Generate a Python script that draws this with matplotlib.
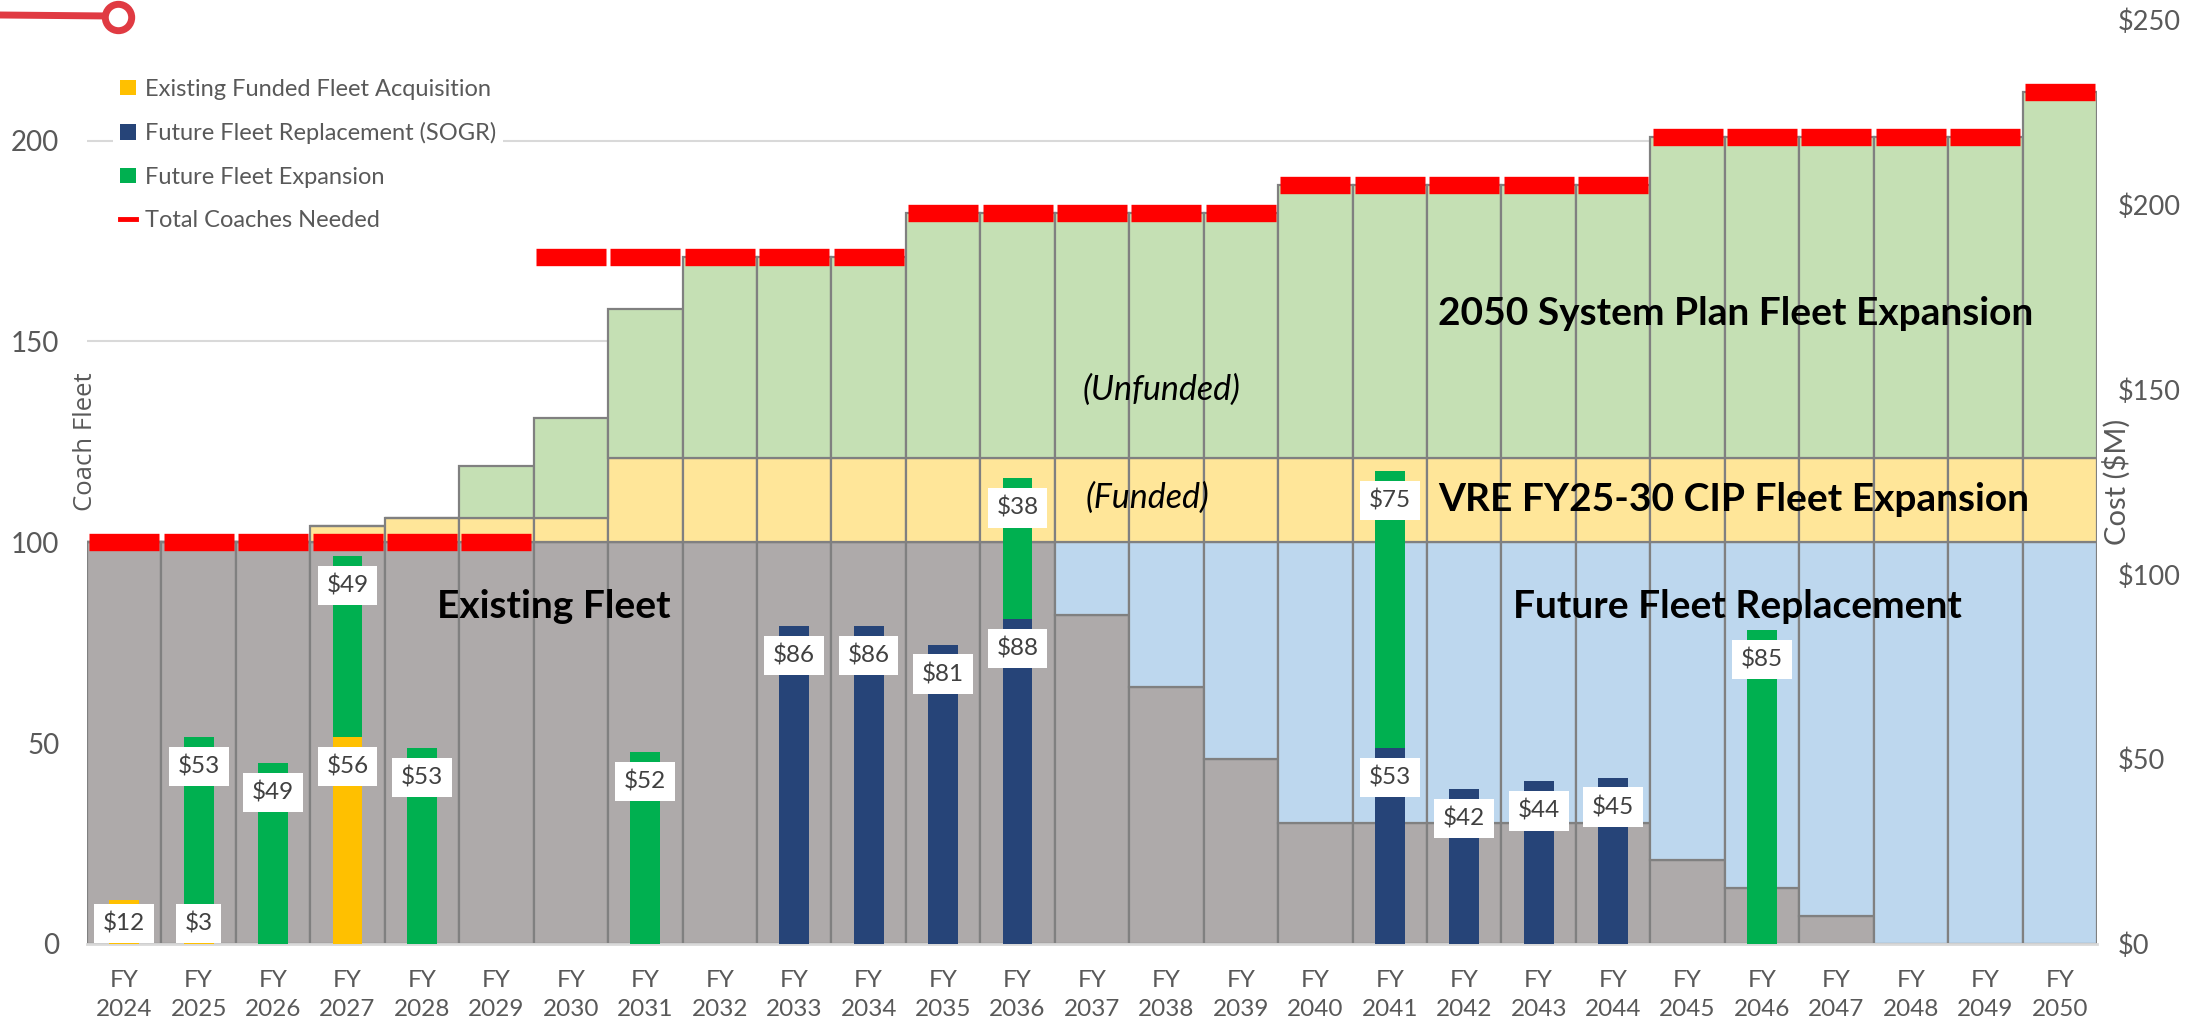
import numpy as np
import matplotlib
matplotlib.use('Agg')
import matplotlib.pyplot as plt
from matplotlib.patches import Patch
from matplotlib.lines import Line2D

plt.rcParams['font.family'] = ['Lato', 'DejaVu Sans']

####################
# DATA
####################
years = list(range(2024, 2051))
tick_labels = ['FY\n' + str(y) for y in years]

# Coach fleet (left axis)
existing_fleet = [100, 100, 100, 100, 100, 100, 100, 100, 100, 100, 100, 100, 100,
                  82, 64, 46, 30, 30, 30, 30, 30, 21, 14, 7, 0, 0, 0]
future_replacement = [0, 0, 0, 0, 0, 0, 0, 0, 0, 0, 0, 0, 0,
                      18, 36, 54, 70, 70, 70, 70, 70, 79, 86, 93, 100, 100, 100]
funded_expansion = [0, 0, 0, 4, 6, 6, 6, 21, 21, 21, 21, 21, 21, 21,
                    21, 21, 21, 21, 21, 21, 21, 21, 21, 21, 21, 21, 21]
unfunded_expansion = [0, 0, 0, 0, 0, 13, 25, 37, 50, 50, 50, 61, 61, 61,
                      61, 61, 68, 68, 68, 68, 68, 80, 80, 80, 80, 80, 91]
total_needed = [100, 100, 100, 100, 100, 100, 171, 171, 171, 171, 171, 182, 182, 182,
                182, 182, 189, 189, 189, 189, 189, 201, 201, 201, 201, 201, 212]

# Cost in $M (right axis)
cost_existing_acq = [12, 3, 0, 56, 0, 0, 0, 0, 0, 0, 0, 0, 0, 0,
                     0, 0, 0, 0, 0, 0, 0, 0, 0, 0, 0, 0, 0]
cost_sogr = [0, 0, 0, 0, 0, 0, 0, 0, 0, 86, 86, 81, 88, 0,
             0, 0, 0, 53, 42, 44, 45, 0, 0, 0, 0, 0, 0]
cost_expansion = [0, 53, 49, 49, 53, 0, 0, 52, 0, 0, 0, 0, 38, 0,
                  0, 0, 0, 75, 0, 0, 0, 0, 85, 0, 0, 0, 0]

####################
# STYLE
####################
c_gray = '#AEAAAA'
c_blue_lt = '#BDD7EE'
c_yel_lt = '#FFE699'
c_grn_lt = '#C5E0B4'
c_edge = '#808080'
c_red = '#FF0000'
c_yellow = '#FFC000'
c_navy = '#264478'
c_green = '#00B050'
c_text = '#595959'

W, H = 2199, 1024
fig = plt.figure(figsize=(W / 100, H / 100), dpi=100)
ax = fig.add_axes([87 / W, 80 / H, 2010 / W, 924 / H])
x = np.arange(len(years))

# Stacked fleet areas
bottom = np.zeros(len(years))
for vals, col in [(existing_fleet, c_gray), (future_replacement, c_blue_lt),
                  (funded_expansion, c_yel_lt), (unfunded_expansion, c_grn_lt)]:
    vals = np.array(vals, dtype=float)
    ax.bar(x, vals, bottom=bottom, width=1.0, color=col, edgecolor=c_edge,
           linewidth=1.6, zorder=2)
    bottom += vals

# Total coaches needed markers
ax.hlines(total_needed, x - 0.47, x + 0.47, color=c_red, linewidth=12.5,
          capstyle='butt', zorder=4)

ax.set_xlim(-0.5, len(years) - 0.5)
ax.set_ylim(0, 230)
ax.set_yticks([0, 50, 100, 150, 200])
ax.yaxis.grid(True, color='#D9D9D9', linewidth=1.5, zorder=0)
ax.set_axisbelow(True)
ax.set_xticks(x)
ax.set_xticklabels([])
# two-line FY labels drawn as text so the line spacing can be set
for xi, lbl in zip(x, tick_labels):
    ax.annotate(lbl, xy=(xi, 0), xycoords=ax.get_xaxis_transform(),
                xytext=(0, -18.5), textcoords='offset points', ha='center',
                va='top', fontsize=17.5, color=c_text, linespacing=1.5,
                annotation_clip=False)
ax.tick_params(axis='x', length=0)
ax.tick_params(axis='y', length=0, pad=20, labelsize=20, labelcolor=c_text)
for s in ['top', 'left', 'right']:
    ax.spines[s].set_visible(False)
ax.spines['bottom'].set_color('#D9D9D9')
ax.spines['bottom'].set_linewidth(2)

# Region labels
ax.text(5.77, 84, 'Existing Fleet', fontsize=28, fontweight='bold',
        ha='center', va='center', zorder=5)
ax.text(21.67, 84, 'Future Fleet Replacement', fontsize=28, fontweight='bold',
        ha='center', va='center', zorder=5)
ax.text(21.62, 110.7, 'VRE FY25-30 CIP Fleet Expansion', fontsize=28,
        fontweight='bold', ha='center', va='center', zorder=5)
ax.text(21.64, 157, '2050 System Plan Fleet Expansion', fontsize=28,
        fontweight='bold', ha='center', va='center', zorder=5)
ax.text(13.93, 138, '(Unfunded)', fontsize=24.5, style='italic',
        ha='center', va='center', zorder=5)
ax.text(13.74, 111, '(Funded)', fontsize=24.5, style='italic',
        ha='center', va='center', zorder=5)

# Cost bars on secondary axis
ax2 = ax.twinx()
ax2.set_ylim(0, 250)
ax2.set_yticks([0, 50, 100, 150, 200, 250])
ax2.set_yticklabels(['$' + str(v) for v in [0, 50, 100, 150, 200, 250]])
ax2.tick_params(axis='y', length=0, pad=15, labelsize=19.5, labelcolor=c_text)
for s in ax2.spines.values():
    s.set_visible(False)

cbottom = np.zeros(len(years))
for vals, col in [(cost_existing_acq, c_yellow), (cost_sogr, c_navy),
                  (cost_expansion, c_green)]:
    vals = np.array(vals, dtype=float)
    mask = vals > 0
    ax2.bar(x[mask], vals[mask], bottom=cbottom[mask], width=0.4, color=col,
            linewidth=0, zorder=3)
    for xi, v, b in zip(x[mask], vals[mask], cbottom[mask]):
        ly = max(b + v - 8, 5.5)
        ax2.text(xi, ly, '$' + str(int(v)), fontsize=17.5, color='#404040',
                 ha='center', va='center', zorder=6,
                 bbox=dict(boxstyle='square,pad=0.36', fc='white', ec='none'))
    cbottom += vals

# Axis titles
fig.text(85 / W, 1 - 442 / H, 'Coach Fleet', rotation=90, fontsize=18.5,
         color=c_text, ha='center', va='center', family=['Open Sans', 'DejaVu Sans'])
fig.text(2117 / W, 1 - 482 / H, 'Cost ($M)', rotation=90, fontsize=21,
         color=c_text, ha='center', va='center')

# Legend
handles = [Patch(facecolor=c_yellow, edgecolor='none'),
           Patch(facecolor=c_navy, edgecolor='none'),
           Patch(facecolor=c_green, edgecolor='none'),
           Line2D([0], [0], color=c_red, linewidth=3.5)]
labels = ['Existing Funded Fleet Acquisition', 'Future Fleet Replacement (SOGR)',
          'Future Fleet Expansion', 'Total Coaches Needed']
leg = ax2.legend(handles, labels, loc='upper left', bbox_to_anchor=(0.013, 0.944),
                 frameon=True, facecolor='white', edgecolor='none', framealpha=1,
                 fontsize=17, labelcolor=c_text, handlelength=0.65, handleheight=0.65,
                 handletextpad=0.4, labelspacing=0.95, borderpad=0.3,
                 borderaxespad=0)
leg.set_zorder(10)

# Decorative red pin at top-left
fig.add_artist(Line2D([0, 110 / W], [1 - 15 / H, 1 - 16 / H], color='#E03A42',
                      linewidth=5, transform=fig.transFigure))
fig.add_artist(Line2D([118 / W], [1 - 17 / H], marker='o', markersize=19,
                      markerfacecolor='white', markeredgecolor='#E03A42',
                      markeredgewidth=5, transform=fig.transFigure))

fig.savefig('out.png', dpi=100)
